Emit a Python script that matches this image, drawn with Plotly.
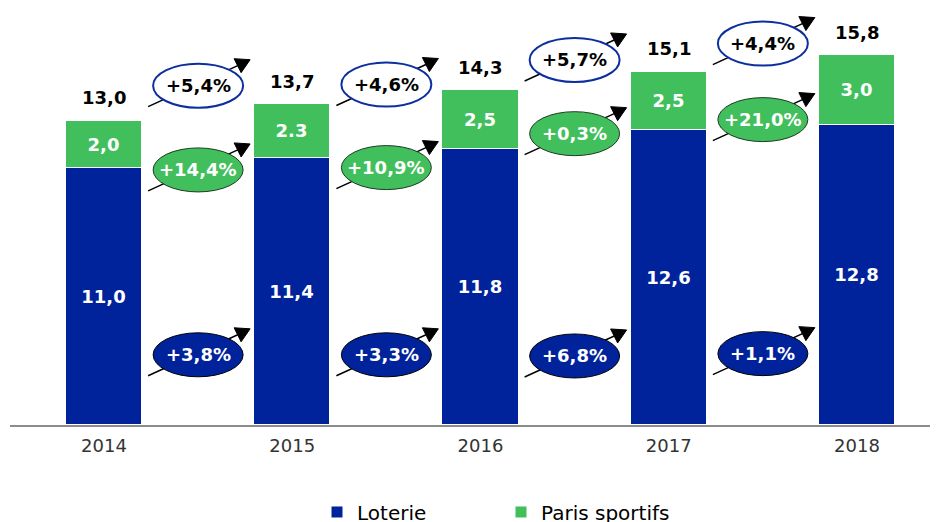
import plotly.graph_objects as go

years = ["2014", "2015", "2016", "2017", "2018"]
loterie = [11.0, 11.4, 11.8, 12.6, 12.8]
paris = [2.0, 2.3, 2.5, 2.5, 3.0]
loterie_lbl = ["11,0", "11,4", "11,8", "12,6", "12,8"]
paris_lbl = ["2,0", "2.3", "2,5", "2,5", "3,0"]
total_lbl = ["13,0", "13,7", "14,3", "15,1", "15,8"]

# growth rates between consecutive years
growth_total = ["+5,4%", "+4,6%", "+5,7%", "+4,4%"]
growth_paris = ["+14,4%", "+10,9%", "+0,3%", "+21,0%"]
growth_loterie = ["+3,8%", "+3,3%", "+6,8%", "+1,1%"]
# vertical placement of the growth bubbles (data units)
pos_total = [14.5, 14.55, 15.6, 16.3]
pos_paris = [10.9, 11.0, 12.45, 13.05]
pos_loterie = [3.0, 3.0, 2.95, 3.05]

BLUE = "#00239C"
GREEN = "#41BF5C"
FONT = "DejaVu Sans"

xs = list(range(len(years)))
fig = go.Figure()
fig.add_bar(x=xs, y=loterie, name="Loterie", marker=dict(color=BLUE, line=dict(color="white", width=1)),
            text=loterie_lbl, textposition="inside", insidetextanchor="middle",
            textfont=dict(family=FONT, size=18, color="white", weight="bold"), width=0.405,
            hoverinfo="skip")
fig.add_bar(x=xs, y=paris, name="Paris sportifs", marker=dict(color=GREEN, line=dict(color="white", width=1)),
            text=paris_lbl, textposition="inside", insidetextanchor="middle",
            textfont=dict(family=FONT, size=18, color="white", weight="bold"), width=0.405,
            hoverinfo="skip")

totals = [a + b for a, b in zip(loterie, paris)]
annotations = []
for i, t in enumerate(totals):
    annotations.append(dict(x=i, y=t, text=total_lbl[i], showarrow=False, yshift=23,
                            font=dict(family=FONT, size=18, color="black", weight="bold")))

shapes = []
EW, EH = 45, 22


def bubble(xc, yc, label, fill, line_color, line_w, text_color):
    # arrow line (behind ellipse)
    shapes.append(dict(type="line", xref="x", yref="y", xsizemode="pixel", ysizemode="pixel",
                       xanchor=xc, yanchor=yc, x0=-50, y0=-21, x1=44, y1=22,
                       line=dict(color="black", width=1.5), layer="above"))
    shapes.append(dict(type="circle", xref="x", yref="y", xsizemode="pixel", ysizemode="pixel",
                       xanchor=xc, yanchor=yc, x0=-EW, y0=-EH, x1=EW, y1=EH,
                       fillcolor=fill, line=dict(color=line_color, width=line_w), layer="above"))
    shapes.append(dict(type="path", xref="x", yref="y", xsizemode="pixel", ysizemode="pixel",
                       xanchor=xc, yanchor=yc, path="M52,26 L36,27 L43,13 Z",
                       fillcolor="black", line=dict(color="black", width=1), layer="above"))
    annotations.append(dict(x=xc, y=yc, text=label, showarrow=False,
                            font=dict(family=FONT, size=18, color=text_color, weight="bold")))


for i in range(4):
    xc = i + 0.5
    bubble(xc, pos_total[i], growth_total[i], "white", "#0D2E9E", 2, "black")
    bubble(xc, pos_paris[i], growth_paris[i], GREEN, "#1E3A22", 1, "white")
    bubble(xc, pos_loterie[i], growth_loterie[i], BLUE, "black", 1, "white")

fig.update_layout(
    width=938, height=522,
    margin=dict(l=2, r=0, t=0, b=105, autoexpand=False),
    barmode="stack", bargap=0,
    plot_bgcolor="white", paper_bgcolor="white",
    font=dict(family=FONT),
    shapes=shapes, annotations=annotations,
    showlegend=True,
    legend=dict(orientation="h", x=0.328, y=-0.2086, xanchor="left", yanchor="middle",
                font=dict(family=FONT, size=20, color="black"), entrywidth=139,
                traceorder="normal", bgcolor="rgba(0,0,0,0)"),
    xaxis=dict(range=[-0.4993, 4.4728], tickmode="array", tickvals=xs, ticktext=years,
               showline=True, linecolor="#8C8C8C", linewidth=2, showgrid=False, zeroline=False,
               ticks="", tickfont=dict(family=FONT, size=18, color="#333333"), ticklabelstandoff=3,
               fixedrange=True),
    yaxis=dict(range=[0, 17.82], visible=False, showgrid=False, zeroline=False, fixedrange=True),
)

fig.write_html("out.html")
